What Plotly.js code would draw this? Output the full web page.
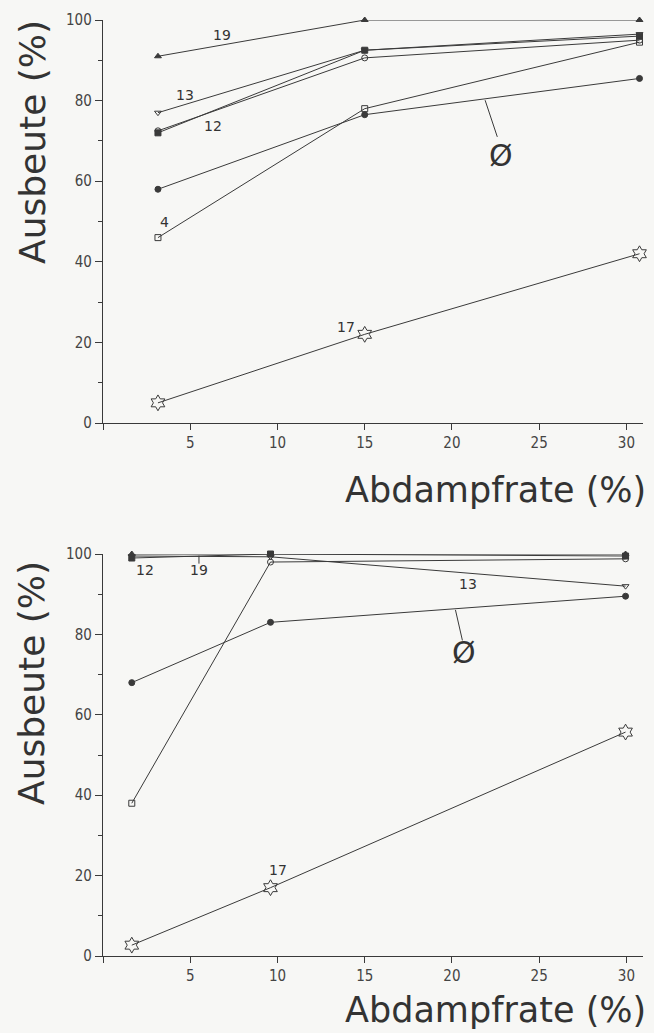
<!DOCTYPE html>
<html><head><meta charset="utf-8">
<script src="https://cdn.plot.ly/plotly-3.0.1.min.js"></script>
<style>html,body{margin:0;padding:0;background:#f7f7f5}</style>
</head><body><div id="chart" style="width:654px;height:1033px"></div>
<script>
// ---- data: top chart ----
const xTop = [3.15, 15, 30.75];
const s19Top  = [91, 100, 100];
const s13Top  = [77, 92.5, 96.5];
const s12Top  = [72, 92.5, 96];
const sOTop   = [72.5, 90.6, 95];
const sAvgTop = [58, 76.5, 85.5];
const s4Top   = [46, 78, 94.5];
const s17Top  = [5, 22, 42];
// ---- data: bottom chart ----
const xBot = [1.65, 9.6, 29.95];
const s19Bot  = [100, 100, 100];
const s12Bot  = [99, 100, 99.5];
const s13Bot  = [99.5, 99.3, 92];
const sAvgBot = [68, 83, 89.5];
const s4Bot   = [38, 98, 98.8];
const s17Bot  = [2.7, 17, 55.7];
// ---- tick labels ----
const xTickVals = [0, 5, 10, 15, 20, 25, 30];
const xTickText = ['', '5', '10', '15', '20', '25', '30'];
const yTickVals = [0, 20, 40, 60, 80, 100];
const yTickText = ['0', '20', '40', '60', '80', '100'];
// ---- series labels (text, x, y) ----
const labTopText = ['19', '13', '12', '4', '17'];
const labTopX    = [6.8, 4.7, 6.3, 3.5, 13.9];
const labTopY    = [96.3, 81.5, 73.7, 49.9, 23.9];
const labBotText = ['12', '19', '13', '17'];
const labBotX    = [2.4, 5.5, 20.9, 10.05];
const labBotY    = [96.0, 96.0, 92.5, 21.4];
const avgLabel = 'Ø';
const avgTop = {x: 22.8, y: 66.5, lx0: 21.9, ly0: 80.1, lx1: 22.6, ly1: 71};
const avgBot = {x: 20.7, y: 75.5, lx0: 20.2, ly0: 86.1, lx1: 20.6, ly1: 78.5};
const xTitle = 'Abdampfrate (%)';
const yTitle = 'Ausbeute (%)';

const LC = '#3a3a3a';
function tr(x, y, sym, size, xa, ya) {
  return {x: x, y: y, xaxis: xa, yaxis: ya, type: 'scatter', mode: 'lines+markers',
    cliponaxis: false, showlegend: false, hoverinfo: 'skip',
    line: {color: LC, width: 1},
    marker: {symbol: sym, size: size, color: LC, line: {color: LC, width: 1}}};
}
const data = [
  tr(xTop, s19Top, 'triangle-up', 6, 'x', 'y'),
  tr(xTop, s13Top, 'triangle-down-open', 6, 'x', 'y'),
  tr(xTop, s12Top, 'square', 6, 'x', 'y'),
  tr(xTop, sOTop, 'circle-open', 6, 'x', 'y'),
  tr(xTop, sAvgTop, 'circle', 6, 'x', 'y'),
  tr(xTop, s4Top, 'square-open', 6, 'x', 'y'),
  tr(xTop, s17Top, 'hexagram-open', 12, 'x', 'y'),
  tr(xBot, s19Bot, 'triangle-up', 6, 'x2', 'y2'),
  tr(xBot, s12Bot, 'square', 6, 'x2', 'y2'),
  tr(xBot, s13Bot, 'triangle-down-open', 6, 'x2', 'y2'),
  tr(xBot, sAvgBot, 'circle', 6, 'x2', 'y2'),
  tr(xBot, s4Bot, ['square-open', 'circle-open', 'circle-open'], 6, 'x2', 'y2'),
  tr(xBot, s17Bot, 'hexagram-open', 12, 'x2', 'y2')
];

const W = 654, H = 1033;
const tickFont = {family: 'DejaVu Sans Condensed, DejaVu Sans, sans-serif', size: 15, color: '#444'};
function xAx(dom, anchor) {
  return {domain: dom, anchor: anchor, range: [0, 30.95], showgrid: false, zeroline: false,
    showline: true, linecolor: LC, linewidth: 1.2, ticks: 'outside', ticklen: 6, tickwidth: 1,
    tickcolor: LC, tickvals: xTickVals, ticktext: xTickText, tickfont: tickFont, fixedrange: true};
}
function yAx(dom, anchor) {
  return {domain: dom, anchor: anchor, range: [0, 100], showgrid: false, zeroline: false,
    showline: true, linecolor: LC, linewidth: 1.2, ticks: 'outside', ticklen: 7, tickwidth: 1,
    tickcolor: LC, tickvals: yTickVals, ticktext: yTickText, tickfont: tickFont,
    minor: {tickvals: [10, 30, 50, 70, 90], ticks: 'outside', ticklen: 4, tickcolor: LC},
    fixedrange: true};
}
const px = v => v / W, py = v => 1 - v / H;
const layout = {
  width: W, height: H, margin: {l: 0, r: 0, t: 0, b: 0},
  paper_bgcolor: '#f7f7f5', plot_bgcolor: '#f7f7f5',
  xaxis: xAx([px(103), px(643)], 'y'),
  yaxis: yAx([py(423), py(20)], 'x'),
  xaxis2: xAx([px(103), px(643)], 'y2'),
  yaxis2: yAx([py(956), py(554)], 'x2'),
  annotations: [], shapes: []
};
const labFont = {family: 'DejaVu Sans, sans-serif', size: 14, color: '#333'};
labTopText.forEach((t, i) => layout.annotations.push({xref: 'x', yref: 'y', x: labTopX[i], y: labTopY[i], text: t, showarrow: false, font: labFont}));
labBotText.forEach((t, i) => layout.annotations.push({xref: 'x2', yref: 'y2', x: labBotX[i], y: labBotY[i], text: t, showarrow: false, font: labFont}));
const avgFont = {family: 'DejaVu Sans, sans-serif', size: 30, color: '#333'};
layout.annotations.push({xref: 'x', yref: 'y', x: avgTop.x, y: avgTop.y, text: avgLabel, showarrow: false, font: avgFont});
layout.annotations.push({xref: 'x2', yref: 'y2', x: avgBot.x, y: avgBot.y, text: avgLabel, showarrow: false, font: avgFont});
layout.shapes.push({type: 'line', xref: 'x', yref: 'y', x0: avgTop.lx0, y0: avgTop.ly0, x1: avgTop.lx1, y1: avgTop.ly1, line: {color: LC, width: 1}});
layout.shapes.push({type: 'line', xref: 'x2', yref: 'y2', x0: avgBot.lx0, y0: avgBot.ly0, x1: avgBot.lx1, y1: avgBot.ly1, line: {color: LC, width: 1}});
layout.shapes.push({type: 'line', xref: 'x2', yref: 'y2', x0: labBotX[1], y0: 97.6, x1: labBotX[1], y1: 99.6, line: {color: LC, width: 1}});
const titleFont = {family: 'DejaVu Sans, sans-serif', size: 35, color: '#333'};
const yTitleFont = {family: 'DejaVu Sans, sans-serif', size: 36, color: '#333'};
layout.annotations.push({xref: 'paper', yref: 'paper', x: px(648), y: py(490), xanchor: 'right', yanchor: 'middle', text: xTitle, showarrow: false, font: titleFont});
layout.annotations.push({xref: 'paper', yref: 'paper', x: px(648), y: py(1010), xanchor: 'right', yanchor: 'middle', text: xTitle, showarrow: false, font: titleFont});
layout.annotations.push({xref: 'paper', yref: 'paper', x: px(33), y: py(142), xanchor: 'center', yanchor: 'middle', textangle: -90, text: yTitle, showarrow: false, font: yTitleFont});
layout.annotations.push({xref: 'paper', yref: 'paper', x: px(31), y: py(683), xanchor: 'center', yanchor: 'middle', textangle: -90, text: yTitle, showarrow: false, font: yTitleFont});

Plotly.newPlot('chart', data, layout, {staticPlot: true, displayModeBar: false});
</script>
</body></html>
